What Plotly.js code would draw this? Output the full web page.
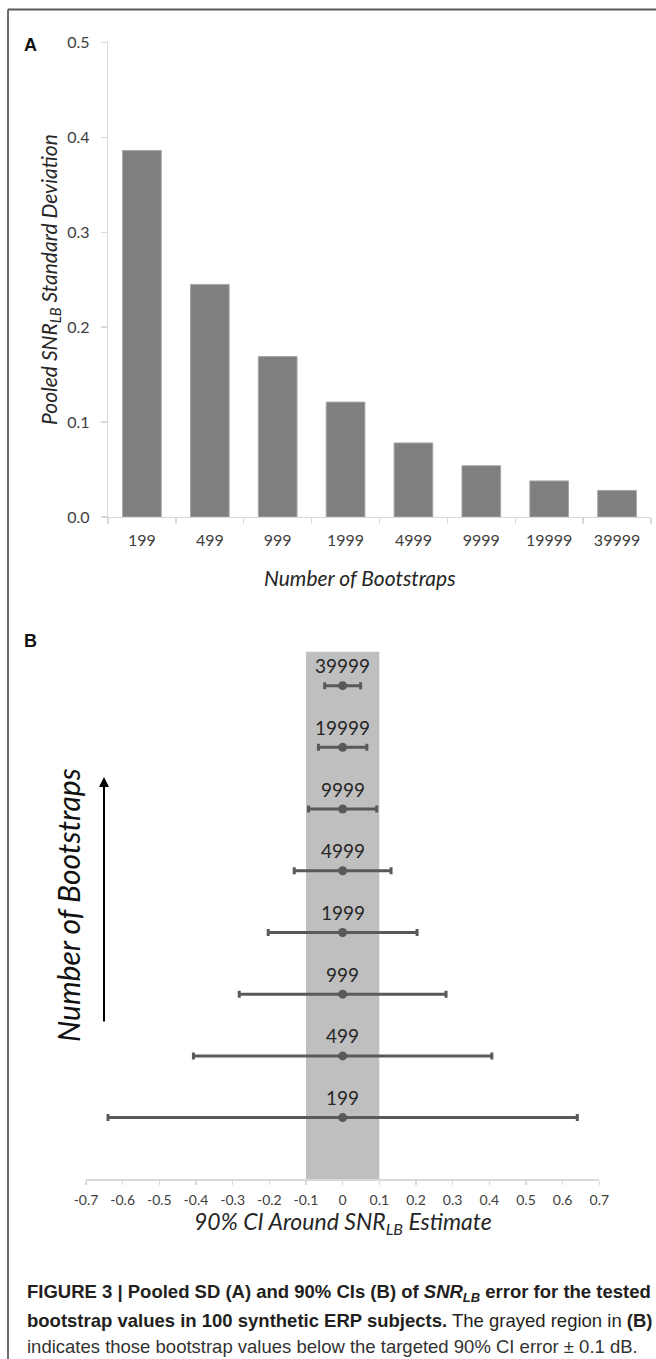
<!DOCTYPE html>
<html>
<head>
<meta charset="utf-8">
<script src="https://cdn.plot.ly/plotly-3.0.1.min.js"></script>
<style>
html,body{margin:0;padding:0;background:#fff;}
#chart{width:656px;height:1359px;}
</style>
</head>
<body>
<div id="chart"></div>
<script>
// ---- data ----
const categories = ['199', '499', '999', '1999', '4999', '9999', '19999', '39999'];
const sdValues = [0.386, 0.245, 0.169, 0.121, 0.078, 0.054, 0.038, 0.028];
const sdTickVals = [0.0, 0.1, 0.2, 0.3, 0.4, 0.5];
const ciCenters = [0, 0, 0, 0, 0, 0, 0, 0];
const ciHalfWidths = [0.640, 0.407, 0.282, 0.203, 0.132, 0.093, 0.066, 0.049];
const ciTickVals = [-0.7, -0.6, -0.5, -0.4, -0.3, -0.2, -0.1, 0, 0.1, 0.2, 0.3, 0.4, 0.5, 0.6, 0.7];
const ciTickText = ['-0.7', '-0.6', '-0.5', '-0.4', '-0.3', '-0.2', '-0.1', '0', '0.1', '0.2', '0.3', '0.4', '0.5', '0.6', '0.7'];
const targetBand = [-0.1, 0.1];

// ---- helpers (page pixel -> paper coords) ----
const W = 656, H = 1359;
const px = x => x / W;
const py = y => 1 - y / H;

const FONT = 'Lato, "Open Sans", sans-serif';
const CAPFONT = '"Liberation Sans", Arial, sans-serif';
const AXCOL = '#d9d9d9';
const TXT = '#404040';

const traces = [
  {
    type: 'bar',
    x: categories,
    y: sdValues,
    xaxis: 'x', yaxis: 'y',
    marker: {color: '#7f7f7f', line: {color: '#a6a6a6', width: 1}},
    hoverinfo: 'skip'
  },
  {
    type: 'scatter',
    mode: 'markers',
    x: ciCenters,
    y: categories,
    xaxis: 'x2', yaxis: 'y2',
    marker: {size: 9, color: '#595959'},
    error_x: {type: 'data', array: ciHalfWidths, symmetric: true, color: '#595959', thickness: 3, width: 3.5},
    hoverinfo: 'skip'
  }
];

function note(text, x, y, font, extra) {
  return Object.assign({text: text, x: px(x), y: py(y), xref: 'paper', yref: 'paper',
    xanchor: 'center', yanchor: 'middle', showarrow: false, font: font}, extra || {});
}

const annotations = [
  note('<b>A</b>', 30, 45, {family: CAPFONT, size: 18, color: '#111'}),
  note('<b>B</b>', 30, 641, {family: CAPFONT, size: 18, color: '#111'}),
  note('Pooled SNR<sub>LB</sub> Standard Deviation', 50, 280,
       {family: FONT, size: 21, color: '#262626', style: 'italic'}, {textangle: -90}),
  note('Number of Bootstraps', 360, 577, {family: FONT, size: 21, color: '#262626', style: 'italic'}),
  note('Number of Bootstraps', 68, 905, {family: FONT, size: 30, color: '#111', style: 'italic'}, {textangle: -90}),
  {text: '', x: px(104), y: py(777), xref: 'paper', yref: 'paper', showarrow: true,
   ax: 0, ay: 246, arrowhead: 2, arrowsize: 1, arrowwidth: 2, arrowcolor: '#000', standoff: 0, startstandoff: 0},
  note('90% CI Around SNR<sub>LB</sub> Estimate', 342.6, 1222, {family: FONT, size: 23, color: '#262626', style: 'italic'}),
  note('<b>FIGURE 3 | Pooled SD (A) and 90% CIs (B) of <i>SNR<sub>LB</sub></i> error for the tested</b>', 25, 1293,
       {family: CAPFONT, size: 18.5, color: '#231f20'}, {xanchor: 'left'}),
  note('<b>bootstrap values in 100 synthetic ERP subjects.</b> The grayed region in <b>(B)</b>', 25, 1320,
       {family: CAPFONT, size: 18.5, color: '#231f20'}, {xanchor: 'left'}),
  note('indicates those bootstrap values below the targeted 90% CI error \u00b1 0.1 dB.', 25, 1346,
       {family: CAPFONT, size: 18.5, color: '#333'}, {xanchor: 'left'})
];

categories.forEach((c, i) => {
  annotations.push({text: c, x: ciCenters[i], y: i, xref: 'x2', yref: 'y2', yshift: 20,
    xanchor: 'center', yanchor: 'middle', showarrow: false,
    font: {family: FONT, size: 19, color: '#262626'}});
});

const layout = {
  width: W, height: H,
  margin: {l: 0, r: 0, t: 0, b: 0, pad: 0},
  paper_bgcolor: '#fff', plot_bgcolor: 'rgba(0,0,0,0)',
  showlegend: false,
  bargap: 0.43,
  xaxis: {
    domain: [px(108), px(651)], anchor: 'y', type: 'category',
    showline: true, linecolor: AXCOL, linewidth: 1.3,
    ticks: 'outside', tickson: 'boundaries', ticklen: 6, tickcolor: AXCOL, tickwidth: 1.3,
    tickfont: {family: FONT, size: 16, color: TXT},
    ticklabelstandoff: 8,
    showgrid: false, zeroline: false, fixedrange: true
  },
  yaxis: {
    domain: [py(517), py(42.3)], anchor: 'x', range: [0, 0.5],
    tickvals: sdTickVals, tickformat: '.1f',
    showline: true, linecolor: AXCOL, linewidth: 1.3,
    ticks: 'outside', ticklen: 6, tickcolor: AXCOL, tickwidth: 1.3,
    tickfont: {family: FONT, size: 16, color: TXT},
    ticklabelstandoff: 8,
    showgrid: false, zeroline: false, fixedrange: true
  },
  xaxis2: {
    domain: [px(86), px(599.3)], anchor: 'y2', range: [-0.7, 0.7],
    tickvals: ciTickVals, ticktext: ciTickText,
    showline: true, linecolor: AXCOL, linewidth: 1.3,
    ticks: 'outside', ticklen: 4, tickcolor: AXCOL, tickwidth: 1.3,
    tickfont: {family: FONT, size: 14, color: TXT},
    ticklabelstandoff: 4,
    showgrid: false, zeroline: false, fixedrange: true
  },
  yaxis2: {
    domain: [py(1179.3), py(651.7)], anchor: 'x2', type: 'category',
    categoryorder: 'array', categoryarray: categories,
    range: [-1, 7.55], visible: false, fixedrange: true
  },
  shapes: [
    {type: 'rect', xref: 'x2', yref: 'y2 domain', x0: targetBand[0], x1: targetBand[1], y0: 0, y1: 1,
     fillcolor: '#bfbfbf', line: {width: 0}, layer: 'below'},
    {type: 'line', xref: 'paper', yref: 'paper', x0: px(8), x1: px(8), y0: py(9.5), y1: -0.05,
     line: {color: '#3a3a3a', width: 1.5}},
    {type: 'line', xref: 'paper', yref: 'paper', x0: px(8), x1: 1.05, y0: py(9.5), y1: py(9.5),
     line: {color: '#5a5a5a', width: 2}}
  ],
  annotations: annotations
};

Plotly.newPlot('chart', traces, layout, {staticPlot: true, displayModeBar: false});
</script>
</body>
</html>
